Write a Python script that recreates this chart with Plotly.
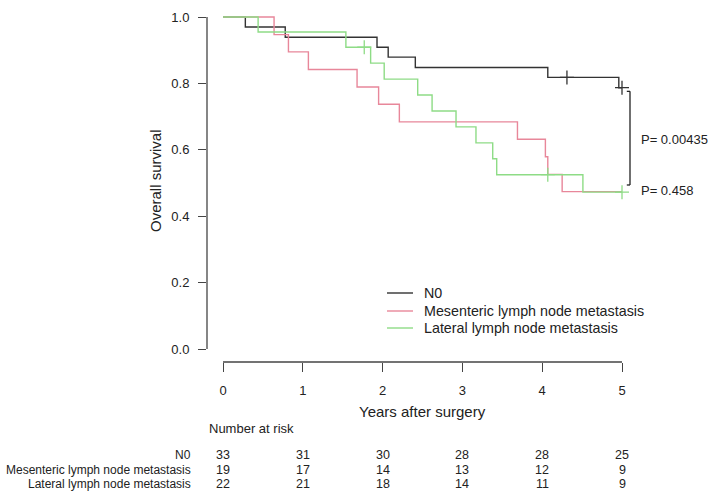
import plotly.graph_objects as go

# ---- data ----
groups = ["N0", "Mesenteric lymph node metastasis", "Lateral lymph node metastasis"]
colors = ["#333333", "#E8879A", "#8EDC86"]

# step-change times (years) and survival after each step
n0_times = [0, 0.28, 0.78, 1.93, 2.07, 2.41, 4.07, 4.96, 5.0]
n0_surv = [1.0, 0.970, 0.939, 0.909, 0.879, 0.848, 0.818, 0.787, 0.787]
n0_cens_t = [4.31, 5.0]
n0_cens_s = [0.818, 0.787]

mes_times = [0, 0.64, 0.82, 1.07, 1.68, 1.95, 2.21, 3.69, 4.04, 4.07, 4.25, 5.0]
mes_surv = [1.0, 0.947, 0.895, 0.842, 0.789, 0.737, 0.684, 0.632, 0.579, 0.526, 0.474, 0.474]
mes_cens_t = []
mes_cens_s = []

lat_times = [0, 0.44, 1.54, 1.85, 2.02, 2.44, 2.62, 2.92, 3.17, 3.38, 3.43, 4.51, 5.0]
lat_surv = [1.0, 0.955, 0.909, 0.861, 0.813, 0.765, 0.717, 0.669, 0.621, 0.573, 0.525, 0.4725, 0.4725]
lat_cens_t = [1.77, 4.07, 5.0]
lat_cens_s = [0.909, 0.525, 0.4725]

risk_times = [0, 1, 2, 3, 4, 5]
risk_n0 = [33, 31, 30, 28, 28, 25]
risk_mes = [19, 17, 14, 13, 12, 9]
risk_lat = [22, 21, 18, 14, 11, 9]

yticks = [0.0, 0.2, 0.4, 0.6, 0.8, 1.0]
xticks = [0, 1, 2, 3, 4, 5]
p_values = ["P= 0.00435", "P= 0.458"]

# ---- layout geometry (pixels) ----
W, H = 709, 492
L, R, T, B = 207, 69, 10, 130
PW, PH = W - L - R, H - T - B
x_rng = [(207 - 223) / 79.8, (640 - 223) / 79.8]
y_rng = [(349 - 362) / 332, (349 - 10) / 332]

def px(xp):
    return (xp - L) / PW

def py(yp):
    return (H - B - yp) / PH

FONT = "Liberation Sans, Arial, Helvetica, sans-serif"
TXT = "#222222"

fig = go.Figure()

series = [
    (n0_times, n0_surv, n0_cens_t, n0_cens_s),
    (mes_times, mes_surv, mes_cens_t, mes_cens_s),
    (lat_times, lat_surv, lat_cens_t, lat_cens_s),
]
for (t, s, ct, cs), name, col in zip(series, groups, colors):
    fig.add_trace(go.Scatter(x=t, y=s, mode="lines", line=dict(color=col, width=1.4, shape="hv"),
                             name=name, showlegend=False))
for (t, s, ct, cs), name, col in zip(series, groups, colors):
    if ct:
        fig.add_trace(go.Scatter(x=ct, y=cs, mode="markers",
                                 marker=dict(symbol="cross-thin", size=10, line=dict(color=col, width=1.3)),
                                 showlegend=False, hoverinfo="skip"))

shapes = []
# R-style axis lines spanning tick range
shapes.append(dict(type="line", xref="paper", yref="y", x0=0, x1=0, y0=0, y1=1,
                   line=dict(color="#444444", width=1.3)))
shapes.append(dict(type="line", xref="x", yref="paper", x0=0, x1=5, y0=0, y1=0,
                   line=dict(color="#444444", width=1.3)))

# p-value bracket
bx = (630 - 223) / 79.8
shapes.append(dict(type="line", xref="x", yref="y", x0=bx, x1=bx, y0=0.494, y1=0.776,
                   line=dict(color="#222222", width=1.3)))
shapes.append(dict(type="line", xref="x", yref="y", x0=bx - 0.04, x1=bx, y0=0.494, y1=0.494,
                   line=dict(color="#222222", width=1.3)))
shapes.append(dict(type="line", xref="x", yref="y", x0=bx - 0.04, x1=bx, y0=0.776, y1=0.776,
                   line=dict(color="#222222", width=1.3)))

annotations = []
# p-values
annotations.append(dict(x=px(639), y=py(140), xref="paper", yref="paper", text=p_values[0],
                        showarrow=False, xanchor="left", yanchor="middle",
                        font=dict(family=FONT, size=13, color=TXT)))
annotations.append(dict(x=px(639), y=py(190), xref="paper", yref="paper", text=p_values[1],
                        showarrow=False, xanchor="left", yanchor="middle",
                        font=dict(family=FONT, size=13, color=TXT)))

# manual legend
leg_y = [293, 311, 328]
for name, col, yy in zip(groups, colors, leg_y):
    shapes.append(dict(type="line", xref="paper", yref="paper", x0=px(387), x1=px(413),
                       y0=py(yy), y1=py(yy), line=dict(color=col, width=1.4)))
    annotations.append(dict(x=px(423), y=py(yy), xref="paper", yref="paper", text=name,
                            showarrow=False, xanchor="left", yanchor="middle", borderpad=0,
                            font=dict(family=FONT, size=14.3, color=TXT)))

# axis titles
annotations.append(dict(x=px(155), y=py(181), xref="paper", yref="paper", text="Overall survival",
                        showarrow=False, textangle=-90, xanchor="center", yanchor="middle",
                        font=dict(family=FONT, size=15, color=TXT)))
annotations.append(dict(x=2.5, y=py(411), xref="x", yref="paper", text="Years after surgery",
                        showarrow=False, xanchor="center", yanchor="middle",
                        font=dict(family=FONT, size=15, color=TXT)))

# number at risk table
annotations.append(dict(x=px(207), y=py(428), xref="paper", yref="paper", text="Number at risk",
                        showarrow=False, xanchor="left", yanchor="middle",
                        font=dict(family=FONT, size=13, color=TXT)))
risk_rows = [risk_n0, risk_mes, risk_lat]
row_y = [455, 470, 484]
for name, row, yy in zip(groups, risk_rows, row_y):
    annotations.append(dict(x=px(192), y=py(yy), xref="paper", yref="paper", text=name,
                            showarrow=False, xanchor="right", yanchor="middle", borderpad=0,
                            font=dict(family=FONT, size=12, color=TXT)))
    for t, v in zip(risk_times, row):
        annotations.append(dict(x=t, y=py(yy), xref="x", yref="paper", text=str(v),
                                showarrow=False, xanchor="center", yanchor="middle", borderpad=0,
                                font=dict(family=FONT, size=12.5, color=TXT)))

fig.update_layout(
    width=W, height=H,
    margin=dict(l=L, r=R, t=T, b=B, pad=0),
    paper_bgcolor="white", plot_bgcolor="white",
    font=dict(family=FONT, size=13, color=TXT),
    shapes=shapes, annotations=annotations,
    showlegend=False,
    xaxis=dict(range=x_rng, tickvals=xticks, ticktext=[str(v) for v in xticks],
               showgrid=False, zeroline=False, showline=False,
               ticks="outside", ticklen=9, tickwidth=1.3, tickcolor="#444444",
               ticklabelstandoff=7,
               tickfont=dict(family=FONT, size=13, color=TXT), fixedrange=True),
    yaxis=dict(range=y_rng, tickvals=yticks, ticktext=[f"{v:.1f}" for v in yticks],
               showgrid=False, zeroline=False, showline=False,
               ticks="outside", ticklen=8, tickwidth=1.3, tickcolor="#444444",
               ticklabelstandoff=6,
               tickfont=dict(family=FONT, size=13, color=TXT), fixedrange=True),
)

fig.write_html("out.html")
